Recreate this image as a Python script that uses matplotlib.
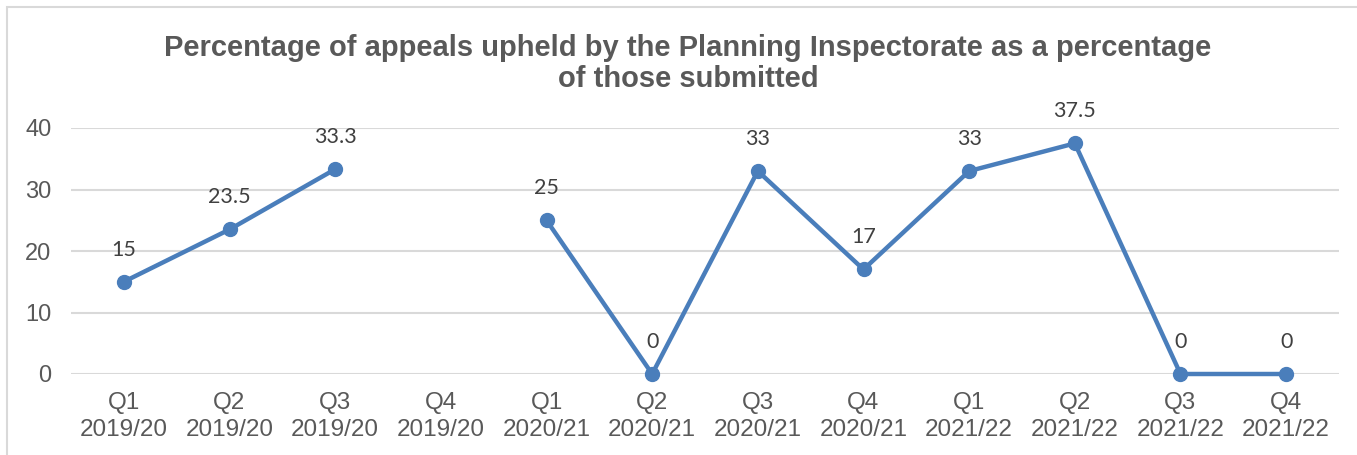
import numpy as np
import matplotlib.pyplot as plt
from matplotlib.patches import Rectangle

# data
quarters = ['Q1', 'Q2', 'Q3', 'Q4', 'Q1', 'Q2', 'Q3', 'Q4', 'Q1', 'Q2', 'Q3', 'Q4']
years = ['2019/20'] * 4 + ['2020/21'] * 4 + ['2021/22'] * 4
upheld = [15, 23.5, 33.3, np.nan, 25, 0, 33, 17, 33, 37.5, 0, 0]
labels = ['15', '23.5', '33.3', '', '25', '0', '33', '17', '33', '37.5', '0', '0']

grey = '#595959'
blue = '#4a7ebb'

plt.rcParams['font.family'] = ['Liberation Sans', 'DejaVu Sans']

fig = plt.figure(figsize=(13.57, 4.55), dpi=100)
ax = fig.add_axes([71 / 1357, 81 / 455, 1268 / 1357, 246 / 455])

# chart border (left and top)
fig.patches.append(Rectangle((7 / 1357, -0.1), 1.2, (448 / 455) + 0.1,
                             transform=fig.transFigure, fill=False,
                             edgecolor='#d9d9d9', lw=1.5))

x = np.arange(len(upheld))
ax.plot(x, upheld, color=blue, lw=3.2, marker='o', markersize=10,
        clip_on=False, zorder=3)

for xi, v, lab in zip(x, upheld, labels):
    if lab:
        ax.annotate(lab, (xi, v), xytext=(0, 16), textcoords='offset points',
                    ha='center', va='bottom', fontsize=15.5, color='#404040',
                    family=['Lato', 'DejaVu Sans'])

ax.set_xlim(-0.5, len(upheld) - 0.5)
ax.set_ylim(0, 40)
ax.set_yticks([0, 10, 20, 30, 40])
ax.set_xticks(x)
ax.set_xticklabels([f'{q}\n{y}' for q, y in zip(quarters, years)])
ax.tick_params(axis='x', length=0, labelsize=17.5, labelcolor=grey, pad=13)
ax.tick_params(axis='y', length=0, labelsize=17, labelcolor=grey, pad=14)
for lab in ax.get_xticklabels():
    lab.set_linespacing(1.3)

ax.grid(axis='y', color='#d9d9d9', lw=1.5)
ax.set_axisbelow(True)
for s in ax.spines.values():
    s.set_visible(False)

fig.text(0.507, 0.860, 'Percentage of appeals upheld by the Planning Inspectorate as a percentage\nof those submitted',
         ha='center', va='center', fontsize=21, fontweight='bold', color=grey,
         linespacing=1.15)

fig.savefig('out.png', dpi=100)
